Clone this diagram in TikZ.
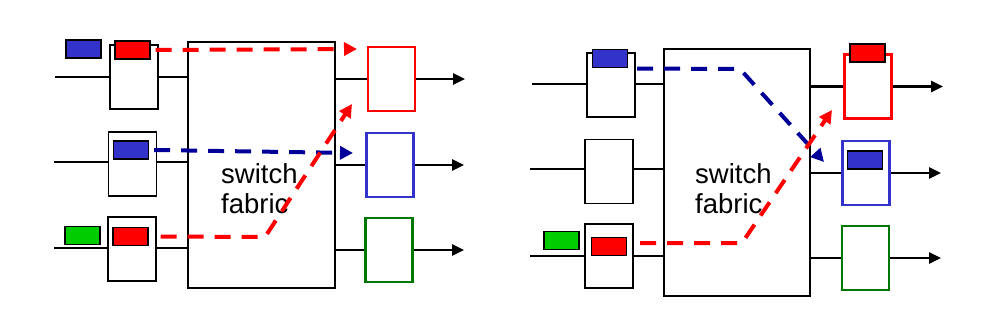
\documentclass[tikz,border=0pt]{standalone}
\usepackage{fontspec}
\setmainfont{Liberation Sans}
\usetikzlibrary{arrows.meta}
\definecolor{pktblue}{HTML}{3333CC}
\definecolor{pktred}{HTML}{FF0000}
\definecolor{pktgreen}{HTML}{00CC00}
\definecolor{flowblue}{HTML}{000099}
\definecolor{portgreen}{HTML}{007700}
\tikzset{
  wire/.style={line width=2.6pt},
  outarr/.style={-{Triangle[length=12pt,width=11pt]},line width=2.6pt},
  flow/.style={-{Triangle[length=13pt,width=13pt]},line width=4pt,dash pattern=on 16pt off 11pt},
  inport/.style={draw=black,line width=1.4pt,fill=white,minimum width=48pt,minimum height=64pt,inner sep=0pt},
  outport/.style={draw,line width=2.7pt,fill=white,minimum width=47pt,minimum height=64pt,inner sep=0pt},
  pkt/.style={draw=black,line width=1.4pt,minimum width=35pt,minimum height=18pt,inner sep=0pt},
  fabric/.style={draw=black,line width=1.6pt,inner sep=0pt},
  fabtxt/.style={align=left,inner sep=0pt,font=\fontsize{27.5}{30}\selectfont}
}

\begin{document}
\begin{tikzpicture}[x=1pt,y=-1pt]
\useasboundingbox (0,0) rectangle (1003,314);

% left: input ports, fabric, output ports
\node[fabric, minimum width=147pt, minimum height=246pt] (fabL) at (261.5,165) {};
\node[inport] (inL1) at (134,77) {};
\node[inport] (inL2) at (132.5,164) {};
\node[inport] (inL3) at (132,249) {};
\node[outport, draw=pktred] (oL1) at (391.5,79) {};
\node[outport, draw=pktblue] (oL2) at (390,165) {};
\node[outport, draw=portgreen] (oL3) at (389,250) {};

\node[pkt, fill=pktblue] (qL1) at (83.5,49) {};
\node[pkt, fill=pktred] (pL1) at (132.5,50) {};
\node[pkt, fill=pktblue] (pL2) at (131,150) {};
\node[pkt, fill=pktgreen] (qL3) at (82.5,235.5) {};
\node[pkt, fill=pktred] (pL3) at (130.5,236.5) {};

\node[fabtxt, anchor=base west] (txtL) at (221,213) {switch\\fabric};

\coordinate (aL1) at (55,77);
\coordinate (aL2) at (54,162);
\coordinate (aL3) at (54,248);
\coordinate (zL1) at (465,79);
\coordinate (zL2) at (464,165);
\coordinate (zL3) at (464,250);

\foreach \i in {1,2,3}{
  \draw[wire] (aL\i) -- (aL\i -| inL\i.west);
  \draw[wire] (aL\i -| inL\i.east) -- (aL\i -| fabL.west);
  \draw[wire] (oL\i.west -| fabL.east) -- (oL\i.west);
  \draw[outarr] (oL\i.east) -- (oL\i.east -| zL\i);
}

% left: flows through the fabric
\coordinate (tL1) at (357,49);
\coordinate (tL2) at (353,153);
\coordinate (kL3) at (265,237);
\coordinate (tL3) at (352,104);
\draw[flow, pktred] ([xshift=5pt]pL1.east) -- (tL1);
\draw[flow, flowblue] ([xshift=5pt]pL2.east) -- (tL2);
\draw[flow, pktred] ([xshift=12pt]pL3.east) -- (kL3) -- (tL3);

% right: input ports, fabric, output ports
\node[fabric, minimum width=146pt, minimum height=247pt] (fabR) at (737,172.5) {};
\node[inport] (inR1) at (611,85) {};
\node[inport] (inR2) at (609,171.5) {};
\node[inport] (inR3) at (609,256) {};
\node[outport, draw=pktred] (oR1) at (868,86.5) {};
\node[outport, draw=pktblue] (oR2) at (866,173) {};
\node[outport, draw=portgreen] (oR3) at (865.5,258) {};

\node[pkt, fill=pktblue] (pR1) at (610,58.5) {};
\node[pkt, fill=pktgreen] (qR3) at (561.5,240.5) {};
\node[pkt, fill=pktred] (pR3) at (609,246.5) {};
\node[pkt, fill=pktred] (sR1) at (867.5,53) {};
\node[pkt, fill=pktblue] (sR2) at (865,160) {};

\node[fabtxt, anchor=base west] (txtR) at (695,213) {switch\\fabric};

\coordinate (aR1) at (532,84);
\coordinate (aR2) at (530,169);
\coordinate (aR3) at (530,256);
\coordinate (zR1) at (943,86);
\coordinate (zR2) at (941,171);
\coordinate (zR3) at (941,257);

\foreach \i in {1,2,3}{
  \draw[wire] (aR\i) -- (aR\i -| inR\i.west);
  \draw[wire] (aR\i -| inR\i.east) -- (aR\i -| fabR.west);
  \draw[wire] (oR\i.west -| fabR.east) -- (oR\i.west);
  \draw[outarr] (oR\i.east) -- (oR\i.east -| zR\i);
}

% right: flows through the fabric
\coordinate (kR1) at (740,69);
\coordinate (tR1) at (824,162);
\coordinate (kR3) at (742,243);
\coordinate (tR3) at (832,110);
\draw[flow, flowblue] ([xshift=9pt,yshift=-10pt]pR1.east) -- (kR1) -- (tR1);
\draw[flow, pktred] ([xshift=13pt,yshift=3.5pt]pR3.east) -- (kR3) -- (tR3);
\end{tikzpicture}
\end{document}
